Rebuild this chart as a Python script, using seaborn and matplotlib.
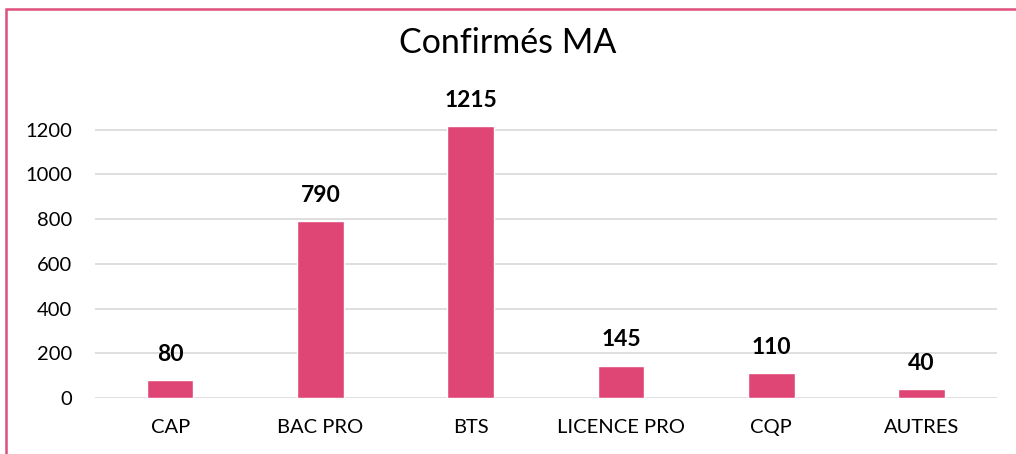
import matplotlib
matplotlib.use("Agg")
import matplotlib.pyplot as plt
import seaborn as sns
import pandas as pd
from matplotlib.patches import Rectangle

categories = ["CAP", "BAC PRO", "BTS", "LICENCE PRO", "CQP", "AUTRES"]
values = [80, 790, 1215, 145, 110, 40]
yticks = [0, 200, 400, 600, 800, 1000, 1200]
title = "Confirmés MA"

bar_color = "#DF4676"
border_color = "#DF4F7C"

sns.set_theme(style="white")
plt.rcParams['font.family'] = ['Lato', 'DejaVu Sans']

df = pd.DataFrame({"cat": categories, "val": values})

fig = plt.figure(figsize=(10.16, 4.54), dpi=100)
ax = fig.add_axes([0.0935, 0.1233, 0.8875, 0.6895])

sns.barplot(data=df, x="cat", y="val", color=bar_color, width=0.31,
            saturation=1, ax=ax, zorder=3)

ax.set_ylim(0, 1400)
ax.set_yticks(yticks)
ax.set_xlim(-0.5, len(categories) - 0.5)
ax.yaxis.grid(True, color="#D9D9D9", linewidth=1.2, zorder=0)
ax.xaxis.grid(False)
for s in ax.spines.values():
    s.set_visible(False)
ax.set_xlabel("")
ax.set_ylabel("")
ax.tick_params(axis="both", length=0, labelsize=14.5, colors="#000000")
ax.tick_params(axis="y", pad=16.5)
ax.tick_params(axis="x", pad=15)

for i, v in enumerate(values):
    ax.annotate(str(v), (i, v), xytext=(0, 11), textcoords="offset points",
                ha="center", va="bottom", fontsize=16.5, fontweight="bold", color="#000000")

fig.text(0.5, 0.905, title, ha="center", va="center", fontsize=24.5, color="#000000")

fig.patches.append(Rectangle((6 / 1016, -0.1), 1.2, 1 - 9 / 454 + 0.1,
                             transform=fig.transFigure, fill=False,
                             edgecolor=border_color, linewidth=1.8))

fig.savefig("out.png", dpi=100, facecolor="white")
